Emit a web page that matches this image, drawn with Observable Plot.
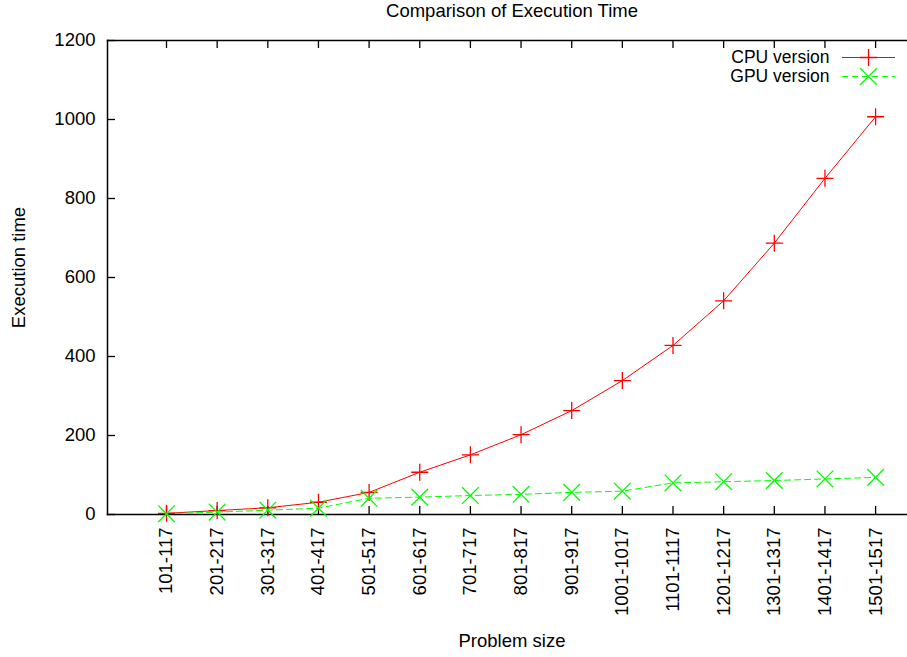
<!DOCTYPE html>
<html><head><meta charset="utf-8">
<script src="https://cdn.jsdelivr.net/npm/d3@7"></script>
<script src="https://cdn.jsdelivr.net/npm/@observablehq/plot@0.6"></script>
<style>
body{margin:0;background:#fff}
#chart svg{font-family:"Liberation Sans",Arial,Helvetica,sans-serif;}
</style>
</head><body><div id="chart"></div>
<script>
// ---- data ----
const categories = ["101-117","201-217","301-317","401-417","501-517","601-617","701-717","801-817","901-917","1001-1017","1101-1117","1201-1217","1301-1317","1401-1417","1501-1517"];
const cpuTimes = [3, 10, 17, 31, 56, 107, 151, 202, 263, 339, 428, 541, 687, 851, 1007];
const gpuTimes = [2, 6, 11, 16, 41, 44, 48, 51, 56, 59, 80, 83, 86, 90, 94];
const yTicks = [0, 200, 400, 600, 800, 1000, 1200];
const seriesNames = ["CPU version", "GPU version"];
const titleText = "Comparison of Execution Time";
const xLabel = "Problem size";
const yLabel = "Execution time";

// ---- layout ----
const W = 907, H = 657, mL = 107, mR = 1, mT = 40, mB = 143;
const innerW = W - mL - mR, innerH = H - mT - mB;
const FS = 18.5, LFS = 17.5;
const CPU_COLOR = "#ff0000", GPU_COLOR = "#00ff00";

const rows = categories.map((c, i) => ({i, c, cpu: cpuTimes[i], gpu: gpuTimes[i]}));
const idx = d3.range(categories.length);

const rad = s => Math.sqrt(s / Math.PI);
const plusSym = {draw(ctx, s){ const r = rad(s); ctx.moveTo(-r,0); ctx.lineTo(r,0); ctx.moveTo(0,-r); ctx.lineTo(0,r); }};
const timesSym = {draw(ctx, s){ const r = rad(s); ctx.moveTo(-r,-r); ctx.lineTo(r,r); ctx.moveTo(-r,r); ctx.lineTo(r,-r); }};
const hlineSym = {draw(ctx, s){ const r = rad(s); ctx.moveTo(-r,0); ctx.lineTo(r,0); }};

const legendDx = -38, legendTextDx = -77, legendDy = [17, 36];

const chart = Plot.plot({
  width: W, height: H,
  marginLeft: mL, marginRight: mR, marginTop: mT, marginBottom: mB,
  style: {fontSize: FS + "px", fontFamily: '"Liberation Sans", Arial, sans-serif', color: "#000", background: "#fff"},
  x: {type: "linear", domain: [-1.165, 14.61], label: null},
  y: {domain: [0, 1200], label: null},
  marks: [
    Plot.frame({anchor: "left", stroke: "#000", strokeWidth: 1.5}),
    Plot.frame({anchor: "top", stroke: "#000", strokeWidth: 1.5}),
    Plot.frame({anchor: "bottom", stroke: "#000", strokeWidth: 1.5}),
    Plot.tickY(yTicks, {y: d => d, insetRight: innerW - 8, stroke: "#000", strokeWidth: 1.3}),
    Plot.tickX(idx, {x: d => d, insetTop: innerH - 8, stroke: "#000", strokeWidth: 1.3}),
    Plot.tickX(idx, {x: d => d, insetBottom: innerH - 8, stroke: "#000", strokeWidth: 1.3}),
    Plot.axisY(yTicks, {tickSize: 0, tickPadding: 12, tickFormat: d => String(d), fontSize: FS, label: null}),
    Plot.axisX(idx, {tickSize: 0, tickPadding: 13, tickRotate: -90, tickFormat: i => categories[i], fontSize: FS, label: null}),
    Plot.line(rows, {x: "i", y: "cpu", stroke: CPU_COLOR, strokeWidth: 1}),
    Plot.line(rows, {x: "i", y: "gpu", stroke: GPU_COLOR, strokeWidth: 1, strokeDasharray: "6,4"}),
    Plot.dot(rows, {x: "i", y: "cpu", symbol: plusSym, r: 8.5, fill: "none", stroke: CPU_COLOR, strokeWidth: 1.3}),
    Plot.dot(rows, {x: "i", y: "gpu", symbol: timesSym, r: 8.3, fill: "none", stroke: GPU_COLOR, strokeWidth: 1.3}),
    // legend
    Plot.text([seriesNames[0]], {frameAnchor: "top-right", dx: legendTextDx, dy: legendDy[0], textAnchor: "end", lineAnchor: "middle", fontSize: LFS, fill: "#000"}),
    Plot.text([seriesNames[1]], {frameAnchor: "top-right", dx: legendTextDx, dy: legendDy[1], textAnchor: "end", lineAnchor: "middle", fontSize: LFS, fill: "#000"}),
    Plot.dot([seriesNames[0]], {frameAnchor: "top-right", dx: legendDx, dy: legendDy[0], symbol: hlineSym, r: 26.5, fill: "none", stroke: CPU_COLOR, strokeWidth: 1}),
    Plot.dot([seriesNames[0]], {frameAnchor: "top-right", dx: legendDx, dy: legendDy[0], symbol: plusSym, r: 8.5, fill: "none", stroke: CPU_COLOR, strokeWidth: 1.3}),
    Plot.dot([seriesNames[1]], {frameAnchor: "top-right", dx: legendDx, dy: legendDy[1], symbol: hlineSym, r: 26.5, fill: "none", stroke: GPU_COLOR, strokeWidth: 1, strokeDasharray: "6,4"}),
    Plot.dot([seriesNames[1]], {frameAnchor: "top-right", dx: legendDx, dy: legendDy[1], symbol: timesSym, r: 8.3, fill: "none", stroke: GPU_COLOR, strokeWidth: 1.3}),
    // titles
    Plot.text([titleText], {frameAnchor: "top", dx: 5, dy: -29, textAnchor: "middle", lineAnchor: "middle", fontSize: FS, fill: "#000"}),
    Plot.text([xLabel], {frameAnchor: "bottom", dx: 5, dy: 127, textAnchor: "middle", lineAnchor: "middle", fontSize: FS, fill: "#000"}),
    Plot.text([yLabel], {frameAnchor: "left", dx: -88.5, dy: -10, rotate: -90, textAnchor: "middle", lineAnchor: "middle", fontSize: FS, fill: "#000"})
  ]
});
document.getElementById("chart").appendChild(chart);
</script>
</body></html>
